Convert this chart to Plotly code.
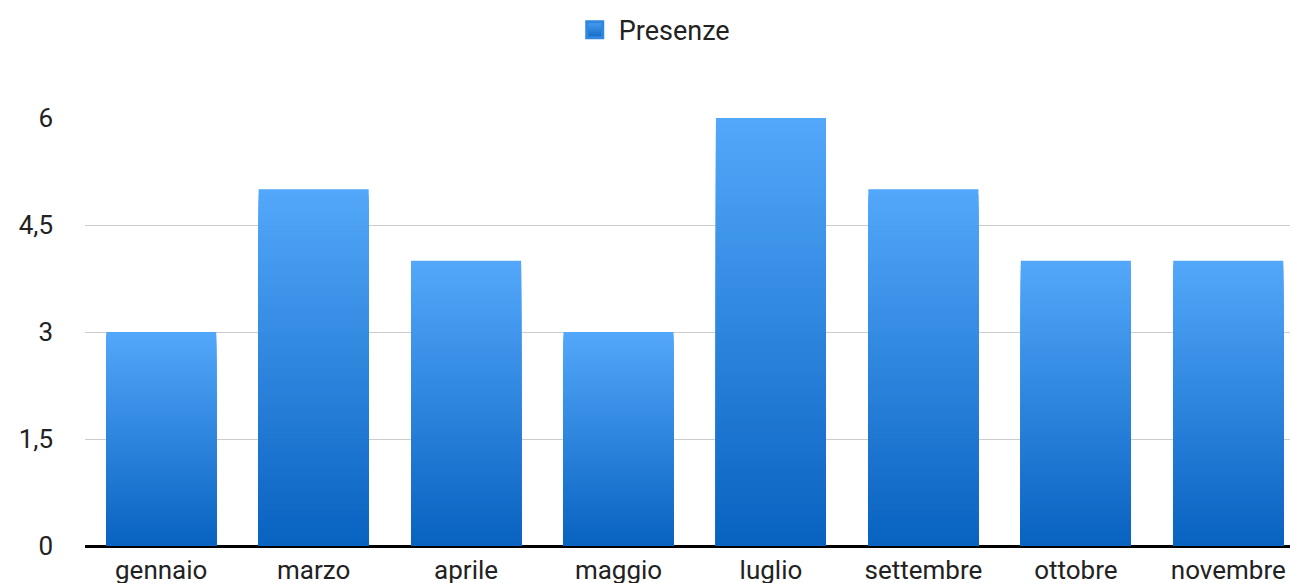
import plotly.graph_objects as go

categories = ["gennaio", "marzo", "aprile", "maggio", "luglio", "settembre", "ottobre", "novembre"]
presenze = [3, 5, 4, 3, 6, 5, 4, 4]
series_name = "Presenze"
y_tickvals = [0, 1.5, 3, 4.5, 6]

TOP = (0x53, 0xA8, 0xFA)
BOTTOM = (0x08, 0x62, 0xC0)
N = 60


def mix(f):
    r = [round(BOTTOM[i] + (TOP[i] - BOTTOM[i]) * f) for i in range(3)]
    return "rgb(%d,%d,%d)" % tuple(r)


fig = go.Figure()
# vertical gradient per bar: overlaid bars of decreasing height, darker toward the base
for k in range(N):
    frac = (N - k) / N
    fig.add_trace(go.Bar(
        x=categories,
        y=[v * frac for v in presenze],
        marker=dict(color=mix((N - k - 0.5) / N), line=dict(width=0)),
        showlegend=False,
        hoverinfo="skip",
    ))

# legend entry with gradient square
fig.add_trace(go.Scatter(
    x=[None], y=[None], mode="markers", name=series_name,
    marker=dict(symbol="square", size=16, color=mix(0.85),
                gradient=dict(type="vertical", color=mix(0.1)),
                line=dict(width=3, color=mix(0.55))),
))

FS = 26
fig.update_layout(
    width=1290, height=583,
    margin=dict(l=85, r=0, t=118, b=37),
    barmode="overlay",
    bargap=0.278,
    plot_bgcolor="white",
    paper_bgcolor="white",
    separators=",.",
    font=dict(family="Roboto", size=FS, color="#222222"),
    legend=dict(orientation="h", xref="container", yref="container",
                x=0.506, y=0.948, xanchor="center", yanchor="middle",
                itemwidth=38,
                font=dict(size=FS + 1, color="#222222")),
    xaxis=dict(range=[-0.5, 7.405], showgrid=False, ticks="", zeroline=False,
               showline=False, ticklabelstandoff=6, automargin=False,
               ticklabeloverflow="allow",
               tickfont=dict(size=FS, color="#222222")),
    yaxis=dict(range=[0, 6], tickvals=y_tickvals, showgrid=True, gridcolor="#cccccc",
               gridwidth=1, zeroline=True, zerolinecolor="black", zerolinewidth=3,
               ticks="", ticklabelstandoff=31, automargin=False,
               tickfont=dict(size=FS, color="#222222")),
)

fig.write_html(
    "out.html",
    config={"displayModeBar": False},
    post_script="document.body.style.margin='0';document.body.style.overflow='hidden';",
)
